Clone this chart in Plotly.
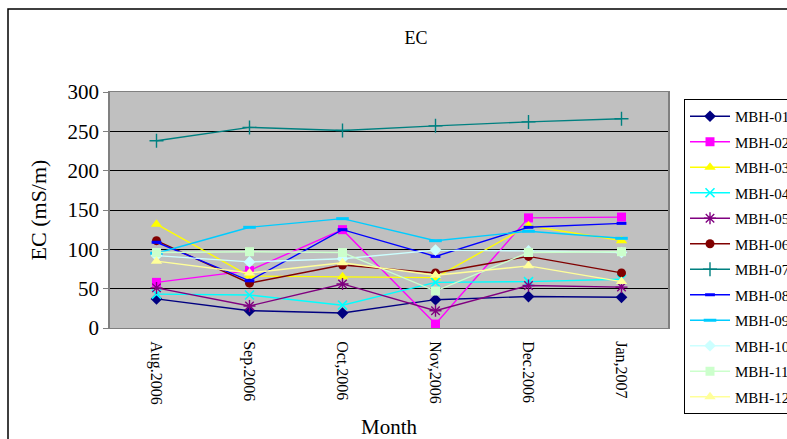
import plotly.graph_objects as go

months = ["Aug.2006", "Sep.2006", "Oct,2006", "Nov,2006", "Dec.2006", "Jan,2007"]

mbh_01 = [37, 22, 19, 36, 40, 39]
mbh_02 = [58, 73, 125, 5, 140, 141]
mbh_03 = [132, 66, 65, 64, 130, 111]
mbh_04 = [43, 42, 29, 58, 59, 62]
mbh_05 = [51, 28, 56, 22, 54, 52]
mbh_06 = [111, 57, 80, 70, 91, 70]
mbh_07 = [238, 255, 251, 257, 262, 266]
mbh_08 = [109, 60, 125, 91, 128, 133]
mbh_09 = [95, 128, 139, 111, 123, 114]
mbh_10 = [92, 84, 88, 99, 98, 96]
mbh_11 = [96, 97, 96, 47, 96, 97]
mbh_12 = [85, 70, 83, 67, 79, 59]

series = [
    ("MBH-01", mbh_01, "#000080", "diamond", 9, 0),
    ("MBH-02", mbh_02, "#FF00FF", "square", 9, 0),
    ("MBH-03", mbh_03, "#FFFF00", "triangle-up", 10, 0),
    ("MBH-04", mbh_04, "#00FFFF", "x-thin-open", 9, 1.6),
    ("MBH-05", mbh_05, "#800080", "asterisk-open", 10, 1.4),
    ("MBH-06", mbh_06, "#800000", "circle", 9, 0),
    ("MBH-07", mbh_07, "#008080", "cross-thin-open", 10, 1.4),
    ("MBH-08", mbh_08, "#0000FF", "line-ew-open", 7, 3),
    ("MBH-09", mbh_09, "#00CCFF", "line-ew-open", 9, 3),
    ("MBH-10", mbh_10, "#CCFFFF", "diamond", 9, 0),
    ("MBH-11", mbh_11, "#CCFFCC", "square", 9, 0),
    ("MBH-12", mbh_12, "#FFFF99", "triangle-up", 10, 0),
]

serif = "Liberation Serif"

fig = go.Figure()
for name, vals, color, symbol, size, lw in series:
    fig.add_trace(go.Scatter(
        x=months, y=vals, name=name, mode="lines+markers",
        legendgroup=name,
        line=dict(color=color, width=1.4),
        marker=dict(symbol=symbol, size=size, color=color,
                    line=dict(color=color, width=lw)),
    ))

# plot area in pixels: x 110..668, y 92..328
L, R, T, B = 110, 668, 92, 328
W, H = R - L, B - T

def px(x):
    return (x - L) / W

def py(y):
    return (B - y) / H

fig.update_layout(
    width=787, height=439,
    margin=dict(l=L, r=787 - R, t=T, b=439 - B, autoexpand=False),
    paper_bgcolor="white",
    plot_bgcolor="#C0C0C0",
    font=dict(family=serif, color="black"),
    title=dict(text="EC", x=px(405), xanchor="center", y=1 - 38 / 439,
               yanchor="middle", font=dict(size=18, family=serif)),
    xaxis=dict(
        type="category", range=[-0.5, 5.5], tickangle=90,
        tickfont=dict(size=16, family=serif),
        showgrid=False, showline=True, linecolor="#808080", linewidth=1,
        mirror=True, ticks="", zeroline=False, ticklabelstandoff=9,
        title=dict(text="Month", font=dict(size=21, family=serif), standoff=16),
    ),
    yaxis=dict(
        range=[0, 300], dtick=50, tickfont=dict(size=21, family=serif),
        showgrid=True, gridcolor="black", gridwidth=1,
        showline=True, linecolor="#808080", linewidth=1.5, mirror=True,
        ticks="outside", ticklen=5, tickcolor="#808080",
        zeroline=False,
        title=dict(text="EC (mS/m)", font=dict(size=22, family=serif), standoff=15),
    ),
    legend=dict(
        x=px(684), xanchor="left", y=py(99), yanchor="top",
        bgcolor="white", bordercolor="black", borderwidth=1,
        font=dict(size=15, family=serif), tracegroupgap=3,
        itemwidth=40, maxheight=420,
    ),
    shapes=[dict(
        type="rect", xref="paper", yref="paper",
        x0=px(8), x1=px(800), y0=py(460), y1=py(9),
        line=dict(color="black", width=1.5), fillcolor="rgba(0,0,0,0)",
        layer="below",
    )],
)

fig.write_html("out.html")
